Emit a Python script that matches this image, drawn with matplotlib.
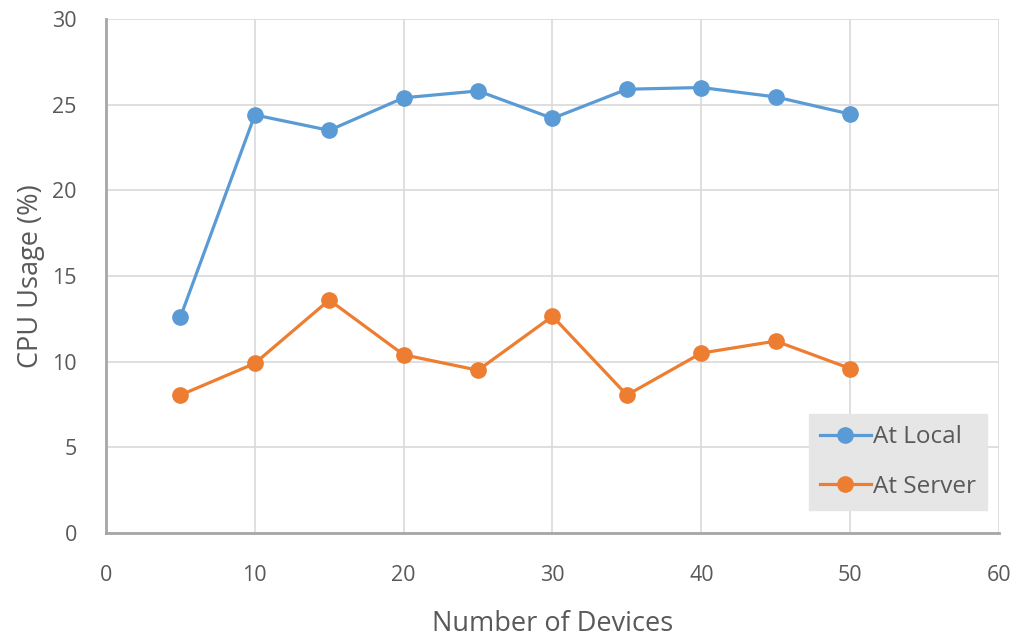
import matplotlib
matplotlib.use('agg')
from matplotlib import pyplot as plt

# CPU usage vs number of devices
devices = [5, 10, 15, 20, 25, 30, 35, 40, 45, 50]
cpu_local = [12.6, 24.4, 23.5, 25.4, 25.8, 24.2, 25.9, 26.0, 25.45, 24.45]
cpu_server = [8.05, 9.9, 13.6, 10.4, 9.5, 12.65, 8.05, 10.5, 11.2, 9.6]

x_ticks = [0, 10, 20, 30, 40, 50, 60]
y_ticks = [0, 5, 10, 15, 20, 25, 30]

text_color = '#595959'
grid_color = '#d9d9d9'

plt.rcParams['font.family'] = ['Open Sans', 'DejaVu Sans']

fig = plt.figure(figsize=(10.22, 6.39), dpi=100)
ax = fig.add_axes([0.1037, 0.1659, 0.8738, 0.8044])

ax.plot(devices, cpu_local, color='#5B9BD5', linewidth=2.3, marker='o',
        markersize=11, label='At Local', zorder=3)
ax.plot(devices, cpu_server, color='#ED7D31', linewidth=2.3, marker='o',
        markersize=11, label='At Server', zorder=3)

ax.set_xlim(0, 60)
ax.set_ylim(0, 30)
ax.set_xticks(x_ticks)
ax.set_yticks(y_ticks)
ax.grid(True, color=grid_color, linewidth=1.2)
ax.set_axisbelow(True)

for side in ['top', 'right']:
    ax.spines[side].set_visible(False)
for side in ['left', 'bottom']:
    ax.spines[side].set_color('#a6a6a6')
    ax.spines[side].set_linewidth(2)

ax.tick_params(axis='both', length=0, labelsize=15.5, labelcolor=text_color)
ax.tick_params(axis='x', pad=23)
ax.tick_params(axis='y', pad=21)

ax.set_xlabel('Number of Devices', fontsize=19.5, color=text_color, labelpad=17)
ax.set_ylabel('CPU Usage (%)', fontsize=19.5, color=text_color, labelpad=5)

leg = ax.legend(loc='lower right', bbox_to_anchor=(0.9866, 0.045), fontsize=17.5,
                frameon=True, fancybox=False, borderpad=0.45, labelspacing=1.05,
                handlelength=2.1, handletextpad=0.1, borderaxespad=0)
leg.get_frame().set_facecolor('#e6e6e6')
leg.get_frame().set_edgecolor('#e6e6e6')
leg.get_frame().set_alpha(1)
for t in leg.get_texts():
    t.set_color(text_color)

plt.savefig('out.png', dpi=100)
